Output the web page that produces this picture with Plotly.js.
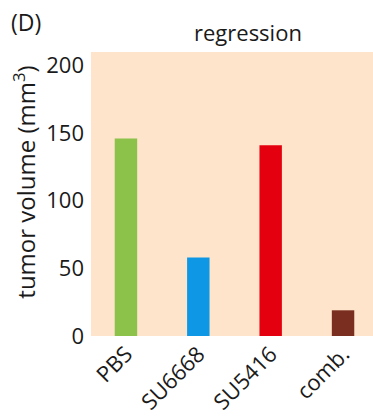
<!DOCTYPE html>
<html>
<head>
<meta charset="utf-8">
<script src="https://cdn.plot.ly/plotly-3.0.1.min.js"></script>
<style>html,body{margin:0;padding:0;background:#fff;}#chart{width:373px;height:416px;}</style>
</head>
<body>
<div id="chart"></div>
<script>
const categories = ["PBS", "SU6668", "SU5416", "comb."];
const values = [146, 58, 141, 19];
const barColors = ["#8cc24a", "#0d97e4", "#e5000f", "#7a2e1f"];
const yTicks = [0, 50, 100, 150, 200];

const font = "'Open Sans', 'Noto Sans', sans-serif";

Plotly.newPlot("chart", [{
  type: "bar",
  x: categories,
  y: values,
  width: 0.31,
  marker: {color: barColors, line: {width: 0}},
  hoverinfo: "none"
}], {
  width: 373, height: 416,
  margin: {l: 91, r: 0, t: 52, b: 80, pad: 0},
  paper_bgcolor: "#ffffff",
  plot_bgcolor: "#fde4cb",
  showlegend: false,
  font: {family: font, color: "#1a1a1a"},
  xaxis: {
    type: "category",
    range: [-0.483, 3.414],
    showgrid: false, zeroline: false, showline: false, ticks: "",
    tickangle: -45,
    tickfont: {family: font, size: 22, color: "#1a1a1a"},
    fixedrange: true
  },
  yaxis: {
    range: [0, 210],
    tickvals: yTicks,
    ticktext: yTicks.map(String),
    showgrid: false, zeroline: false, showline: false, ticks: "",
    ticklabelstandoff: 6,
    tickfont: {family: font, size: 22, color: "#1a1a1a"},
    fixedrange: true
  },
  annotations: [
    {text: "(D)", xref: "paper", yref: "paper", x: -0.29, y: 1.105, xanchor: "left", yanchor: "middle", showarrow: false, font: {family: font, size: 23, color: "#1a1a1a"}},
    {text: "regression", xref: "paper", yref: "paper", x: 0.555, y: 1.07, xanchor: "center", yanchor: "middle", showarrow: false, font: {family: font, size: 22, color: "#1a1a1a"}},
    {text: "tumor volume (mm<sup>3</sup>)", xref: "paper", yref: "paper", x: -0.234, y: 0.54, xanchor: "center", yanchor: "middle", textangle: -90, showarrow: false, font: {family: font, size: 24, color: "#1a1a1a"}}
  ]
}, {displayModeBar: false, staticPlot: true});
</script>
</body>
</html>
